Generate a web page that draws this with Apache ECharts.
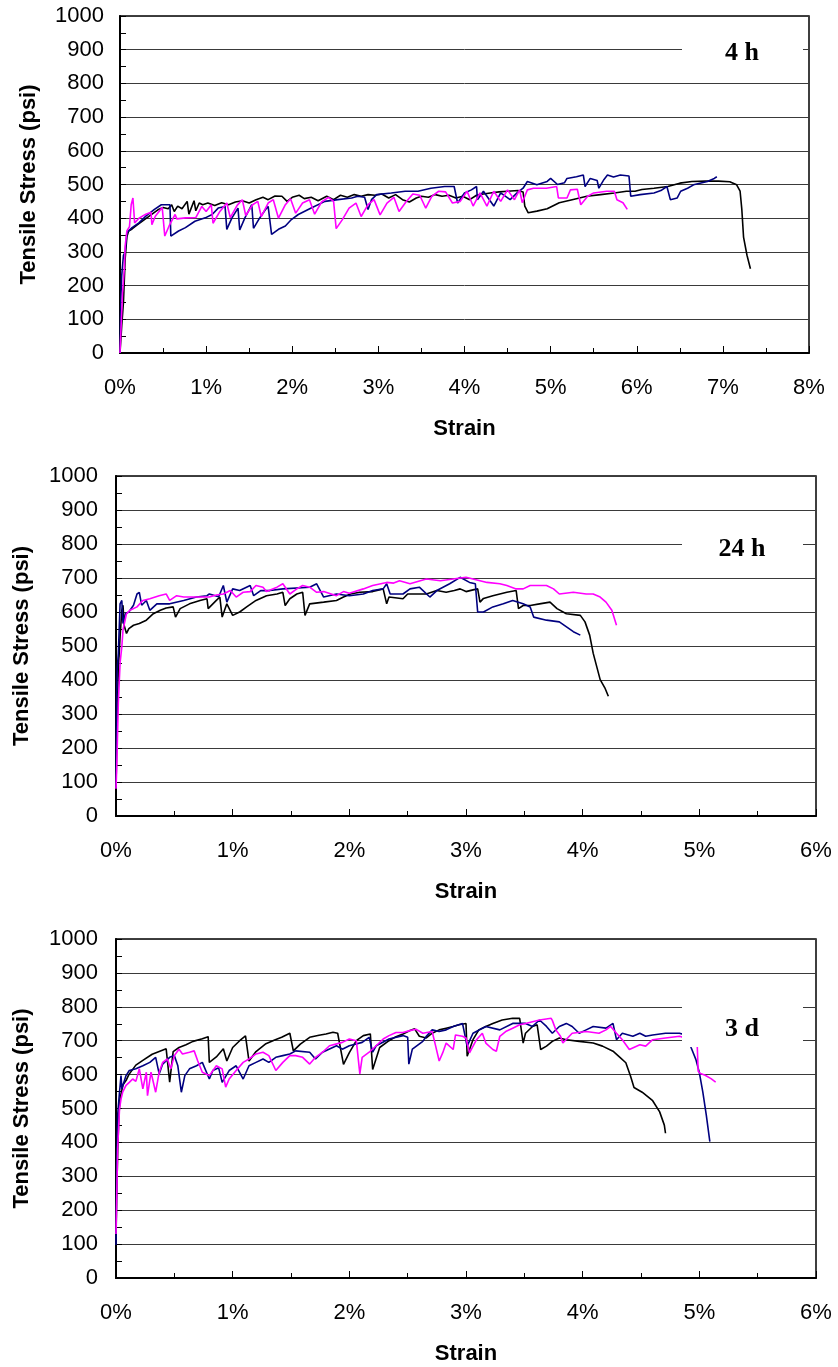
<!DOCTYPE html>
<html>
<head>
<meta charset="utf-8">
<script src="https://cdn.jsdelivr.net/npm/echarts@6/dist/echarts.min.js"></script>
<style>
html,body{margin:0;padding:0;background:#fff;}
#chart{width:838px;height:1367px;}
</style>
</head>
<body>
<div id="chart"></div>
<script>
// ---------- DATA (strain %, tensile stress psi) ----------
const panelLabels = ['4 h', '24 h', '3 d'];
const xMax = [8, 6, 6];
const yTicks = [0, 1000, 100];
const seriesColors = ['#000000', '#000080', '#FF00FF'];

const h4_black = [[0,0],[0.02,80],[0.04,150],[0.06,280],[0.08,345],[0.10,362],[0.14,368],[0.2,380],[0.28,395],[0.36,410],[0.44,425],[0.5,432],[0.56,428],[0.6,440],[0.63,420],[0.67,436],[0.72,428],[0.78,450],[0.8,412],[0.86,452],[0.88,422],[0.92,445],[0.96,440],[1.02,445],[1.1,438],[1.18,446],[1.26,440],[1.34,448],[1.42,452],[1.5,445],[1.58,455],[1.66,462],[1.72,455],[1.8,466],[1.88,465],[1.94,450],[2.0,462],[2.08,468],[2.14,458],[2.22,462],[2.3,452],[2.4,465],[2.48,455],[2.56,468],[2.64,462],[2.72,470],[2.8,465],[2.88,470],[2.96,468],[3.04,472],[3.12,460],[3.2,470],[3.28,455],[3.36,448],[3.44,460],[3.5,465],[3.58,462],[3.66,470],[3.74,465],[3.82,468],[3.9,460],[3.98,465],[4.06,455],[4.14,468],[4.22,472],[4.3,475],[4.4,478],[4.5,480],[4.62,482],[4.68,478],[4.7,436],[4.74,416],[4.84,421],[4.96,428],[5.1,446],[5.25,455],[5.42,465],[5.58,470],[5.74,475],[5.88,480],[5.98,480],[6.06,485],[6.2,489],[6.36,494],[6.5,504],[6.64,509],[6.8,510],[6.95,510],[7.08,508],[7.16,499],[7.2,480],[7.22,426],[7.24,344],[7.28,290],[7.32,250]];
const h4_blue = [[0,0],[0.01,160],[0.02,230],[0.04,290],[0.06,300],[0.08,357],[0.1,362],[0.14,372],[0.22,386],[0.3,406],[0.4,426],[0.48,440],[0.58,440],[0.59,347],[0.68,362],[0.76,372],[0.87,391],[0.99,401],[1.07,411],[1.14,430],[1.22,435],[1.24,367],[1.3,401],[1.37,430],[1.39,365],[1.45,401],[1.53,440],[1.55,370],[1.61,396],[1.69,426],[1.72,435],[1.76,352],[1.84,367],[1.92,377],[1.99,396],[2.07,411],[2.22,430],[2.38,450],[2.53,455],[2.69,460],[2.76,465],[2.84,462],[2.88,426],[2.92,455],[2.98,470],[3.15,475],[3.31,480],[3.46,480],[3.61,489],[3.77,494],[3.88,494],[3.92,445],[4.0,475],[4.08,484],[4.14,494],[4.15,455],[4.22,480],[4.34,436],[4.42,475],[4.53,455],[4.61,475],[4.68,489],[4.73,509],[4.84,499],[4.96,509],[5.0,518],[5.08,500],[5.16,505],[5.19,518],[5.3,523],[5.38,528],[5.40,494],[5.46,518],[5.54,512],[5.56,489],[5.62,515],[5.66,528],[5.73,522],[5.81,528],[5.91,525],[5.93,465],[6.04,470],[6.2,475],[6.28,482],[6.35,494],[6.39,455],[6.47,460],[6.51,480],[6.59,489],[6.66,499],[6.82,509],[6.9,518],[6.93,523]];
const h4_magenta = [[0,0],[0.01,63],[0.03,180],[0.05,250],[0.06,318],[0.08,362],[0.11,375],[0.13,440],[0.15,460],[0.17,386],[0.22,400],[0.3,412],[0.36,418],[0.37,381],[0.41,406],[0.49,432],[0.52,347],[0.57,377],[0.64,411],[0.66,398],[0.76,401],[0.88,402],[0.95,435],[1.0,420],[1.06,440],[1.08,385],[1.16,420],[1.24,445],[1.28,402],[1.36,438],[1.42,455],[1.46,408],[1.54,440],[1.6,450],[1.64,405],[1.72,445],[1.78,455],[1.84,400],[1.92,440],[1.98,458],[2.04,415],[2.12,445],[2.2,455],[2.26,412],[2.34,448],[2.42,462],[2.48,450],[2.51,369],[2.58,395],[2.66,430],[2.74,445],[2.8,405],[2.88,440],[2.95,455],[3.02,410],[3.1,445],[3.18,462],[3.24,420],[3.32,448],[3.4,472],[3.48,468],[3.55,430],[3.62,465],[3.7,480],[3.78,478],[3.86,445],[3.95,450],[4.03,480],[4.1,436],[4.18,475],[4.26,436],[4.34,480],[4.42,450],[4.5,484],[4.58,455],[4.64,484],[4.67,446],[4.73,484],[4.8,489],[4.95,489],[5.07,494],[5.09,460],[5.19,460],[5.23,484],[5.31,486],[5.35,440],[5.43,465],[5.5,475],[5.65,480],[5.74,480],[5.77,455],[5.84,446],[5.89,426]];

const h24_black = [[0,82],[0.01,284],[0.02,430],[0.035,527],[0.05,605],[0.06,620],[0.07,560],[0.09,537],[0.11,551],[0.15,561],[0.2,566],[0.26,576],[0.32,595],[0.38,605],[0.43,612],[0.49,615],[0.51,585],[0.55,610],[0.63,624],[0.72,634],[0.78,639],[0.79,610],[0.86,634],[0.89,644],[0.91,585],[0.95,624],[1.0,590],[1.06,600],[1.12,615],[1.2,634],[1.29,648],[1.38,653],[1.43,658],[1.45,619],[1.49,639],[1.55,653],[1.6,658],[1.62,590],[1.66,624],[1.78,629],[1.89,634],[1.95,644],[2.01,653],[2.09,658],[2.2,660],[2.29,668],[2.32,624],[2.34,644],[2.46,639],[2.5,653],[2.66,653],[2.75,663],[2.83,658],[2.9,663],[2.95,668],[3.0,660],[3.06,665],[3.1,668],[3.12,629],[3.15,640],[3.23,648],[3.35,658],[3.43,663],[3.45,610],[3.49,619],[3.55,619],[3.63,624],[3.72,629],[3.78,610],[3.86,595],[3.98,590],[4.02,571],[4.06,532],[4.09,479],[4.12,440],[4.15,401],[4.19,377],[4.22,352]];
const h24_blue = [[0,82],[0.005,333],[0.01,430],[0.02,478],[0.035,624],[0.05,634],[0.06,566],[0.08,595],[0.11,600],[0.15,620],[0.18,653],[0.2,658],[0.22,620],[0.26,634],[0.29,605],[0.35,624],[0.46,624],[0.58,634],[0.69,644],[0.78,648],[0.8,653],[0.88,645],[0.92,678],[0.95,629],[1.0,668],[1.06,663],[1.15,678],[1.18,648],[1.24,663],[1.32,663],[1.43,668],[1.66,673],[1.72,683],[1.78,644],[1.89,653],[2.0,648],[2.12,653],[2.2,663],[2.29,668],[2.32,683],[2.35,653],[2.46,653],[2.52,668],[2.6,673],[2.69,644],[2.75,663],[2.86,683],[2.95,702],[3.03,687],[3.08,683],[3.10,600],[3.15,600],[3.23,615],[3.32,624],[3.4,634],[3.49,624],[3.55,615],[3.58,585],[3.69,576],[3.8,571],[3.92,542],[3.98,532]];
const h24_magenta = [[0,80],[0.006,139],[0.02,333],[0.035,450],[0.05,498],[0.06,547],[0.09,595],[0.12,605],[0.18,615],[0.23,634],[0.29,639],[0.37,648],[0.43,653],[0.46,634],[0.52,648],[0.58,644],[0.66,644],[0.8,644],[0.86,650],[0.92,653],[0.98,663],[1.03,644],[1.09,658],[1.15,660],[1.2,678],[1.26,673],[1.29,660],[1.38,673],[1.43,683],[1.49,653],[1.55,668],[1.6,678],[1.66,673],[1.72,658],[1.78,660],[1.89,648],[1.95,660],[2.0,655],[2.12,668],[2.2,678],[2.32,687],[2.38,685],[2.43,692],[2.52,683],[2.66,697],[2.78,692],[2.89,697],[3.0,702],[3.12,692],[3.18,687],[3.29,683],[3.35,678],[3.43,668],[3.49,668],[3.55,678],[3.69,678],[3.75,668],[3.8,653],[3.92,658],[4.03,653],[4.09,653],[4.15,644],[4.2,629],[4.25,605],[4.29,561]];

const d3_black = [[0,100],[0.005,230],[0.015,380],[0.025,480],[0.035,530],[0.06,570],[0.09,585],[0.11,600],[0.17,628],[0.23,642],[0.31,660],[0.37,668],[0.43,676],[0.46,578],[0.49,668],[0.54,680],[0.6,688],[0.66,698],[0.74,706],[0.79,712],[0.8,636],[0.86,652],[0.92,676],[0.95,640],[1.0,680],[1.06,700],[1.11,714],[1.14,640],[1.2,668],[1.28,690],[1.36,702],[1.42,710],[1.49,722],[1.52,670],[1.58,690],[1.66,710],[1.74,716],[1.8,720],[1.86,725],[1.9,722],[1.95,630],[2.0,665],[2.06,700],[2.12,715],[2.18,720],[2.2,615],[2.26,680],[2.34,700],[2.4,712],[2.46,720],[2.52,730],[2.56,735],[2.6,713],[2.66,708],[2.71,722],[2.77,732],[2.83,737],[2.89,742],[2.94,747],[3.0,751],[3.01,654],[3.06,703],[3.11,732],[3.17,742],[3.23,751],[3.31,761],[3.4,766],[3.46,766],[3.49,693],[3.51,722],[3.57,742],[3.61,747],[3.64,674],[3.69,684],[3.74,698],[3.8,708],[3.86,703],[3.97,698],[4.09,693],[4.17,684],[4.26,669],[4.31,654],[4.37,635],[4.41,596],[4.44,562],[4.51,548],[4.6,523],[4.66,490],[4.7,451],[4.71,427]];
const d3_blue = [[0,97],[0.006,332],[0.014,480],[0.03,548],[0.043,597],[0.05,558],[0.086,597],[0.114,612],[0.17,617],[0.23,626],[0.29,636],[0.34,651],[0.37,602],[0.4,631],[0.46,651],[0.5,656],[0.53,626],[0.56,548],[0.59,597],[0.63,617],[0.69,626],[0.74,636],[0.8,587],[0.83,612],[0.88,620],[0.91,577],[0.97,612],[1.03,626],[1.09,587],[1.14,626],[1.2,636],[1.26,646],[1.31,636],[1.37,651],[1.43,656],[1.49,661],[1.54,670],[1.66,666],[1.71,646],[1.77,666],[1.89,685],[1.94,675],[2.0,685],[2.11,695],[2.17,710],[2.2,666],[2.23,685],[2.34,705],[2.46,715],[2.5,710],[2.51,631],[2.54,675],[2.63,698],[2.66,713],[2.71,732],[2.77,727],[2.83,732],[2.89,742],[2.97,751],[3.01,684],[3.06,722],[3.17,742],[3.29,732],[3.4,751],[3.51,751],[3.57,742],[3.63,761],[3.69,742],[3.74,722],[3.8,742],[3.86,751],[3.91,742],[3.97,722],[4.03,732],[4.09,742],[4.2,737],[4.26,751],[4.29,703],[4.34,722],[4.43,713],[4.49,722],[4.54,713],[4.6,717],[4.71,722],[4.83,722],[4.9,715],[4.93,679],[4.97,645],[5.0,606],[5.03,548],[5.06,480],[5.09,402]];
const d3_magenta = [[0,130],[0.006,234],[0.014,381],[0.03,499],[0.043,528],[0.057,548],[0.086,568],[0.114,577],[0.143,587],[0.17,580],[0.2,617],[0.23,558],[0.26,607],[0.27,538],[0.3,607],[0.34,548],[0.37,607],[0.4,636],[0.44,646],[0.47,617],[0.5,656],[0.54,675],[0.57,661],[0.63,666],[0.67,670],[0.7,641],[0.74,607],[0.8,597],[0.86,626],[0.91,617],[0.94,563],[0.97,587],[1.03,612],[1.09,636],[1.14,646],[1.2,661],[1.26,666],[1.31,656],[1.37,612],[1.43,636],[1.49,656],[1.54,656],[1.6,651],[1.66,631],[1.71,651],[1.77,666],[1.83,685],[1.94,695],[2.0,705],[2.06,700],[2.09,602],[2.11,651],[2.17,666],[2.23,685],[2.29,705],[2.34,715],[2.4,724],[2.46,724],[2.51,729],[2.57,734],[2.63,722],[2.71,727],[2.74,684],[2.77,640],[2.8,664],[2.83,693],[2.89,674],[2.91,717],[2.97,713],[3.0,708],[3.03,664],[3.09,703],[3.14,722],[3.17,693],[3.23,674],[3.26,669],[3.29,713],[3.34,727],[3.4,737],[3.46,747],[3.51,751],[3.57,756],[3.63,761],[3.73,766],[3.74,760],[3.77,732],[3.81,713],[3.83,693],[3.91,722],[4.03,727],[4.14,722],[4.2,732],[4.24,742],[4.29,722],[4.34,703],[4.4,674],[4.49,688],[4.54,684],[4.6,703],[4.71,708],[4.83,713],[4.9,706],[4.98,705],[4.99,610],[5.01,603],[5.05,598],[5.1,588],[5.14,578]];

const panels = [
  [h4_black, h4_blue, h4_magenta],
  [h24_black, h24_blue, h24_magenta],
  [d3_black, d3_blue, d3_magenta]
];

// ---------- LAYOUT ----------
const grids = [
  {left: 120, top: 16, width: 689, height: 337},
  {left: 116, top: 476, width: 700, height: 340},
  {left: 116, top: 939, width: 700, height: 339}
];
const labelBoxes = [
  {x: 682, y: 28, w: 121, h: 46, tx: 742, ty: 53},
  {x: 682, y: 522, w: 121, h: 48, tx: 742, ty: 549},
  {x: 682, y: 990, w: 121, h: 57, tx: 742, ty: 1029}
];

const FONT = '"Liberation Sans", Arial, sans-serif';

const option = {
  backgroundColor: '#fff',
  animation: false,
  grid: grids.map(g => Object.assign({show: true, borderColor: '#000', borderWidth: 1.5, backgroundColor: '#fff', containLabel: false}, g)),
  xAxis: grids.map((g, i) => ({
    type: 'value', gridIndex: i, min: 0, max: xMax[i], interval: 1,
    axisLine: {show: true, onZero: false, lineStyle: {color: '#000', width: 2}},
    axisTick: {show: true, inside: true, length: 7, lineStyle: {color: '#000', width: 1}},
    minorTick: {show: true, splitNumber: 2, length: 5, lineStyle: {color: '#000', width: 1}},
    splitLine: {show: false},
    axisLabel: {color: '#000', fontFamily: FONT, fontSize: 22, margin: 24, formatter: v => v + '%'},
    name: 'Strain', nameLocation: 'middle', nameGap: 65,
    nameTextStyle: {color: '#000', fontFamily: FONT, fontSize: 22, fontWeight: 'bold'}
  })),
  yAxis: grids.map((g, i) => ({
    type: 'value', gridIndex: i, min: yTicks[0], max: yTicks[1], interval: yTicks[2],
    axisLine: {show: true, onZero: false, lineStyle: {color: '#000', width: 2}},
    axisTick: {show: true, inside: true, length: 6, lineStyle: {color: '#000', width: 1}},
    minorTick: {show: true, splitNumber: 2, length: 6, lineStyle: {color: '#000', width: 1}},
    splitLine: {show: true, lineStyle: {color: '#3a3a3a', width: 1}},
    axisLabel: {color: '#000', fontFamily: FONT, fontSize: 22, margin: i === 0 ? 16 : 18, formatter: v => String(v)},
    name: 'Tensile Stress (psi)', nameLocation: 'middle', nameGap: i === 0 ? 80 : 83,
    nameTextStyle: {color: '#000', fontFamily: FONT, fontSize: 22, fontWeight: 'bold'}
  })),
  series: [],
  graphic: []
};

panels.forEach((p, i) => {
  p.forEach((d, k) => {
    option.series.push({
      type: 'line', xAxisIndex: i, yAxisIndex: i, data: d,
      showSymbol: false, symbol: 'none', smooth: false,
      lineStyle: {color: seriesColors[k], width: 1.6},
      itemStyle: {color: seriesColors[k]},
      z: 2 + k
    });
  });
});

labelBoxes.forEach((b, i) => {
  option.graphic.push({
    type: 'rect', z: 100, silent: true,
    shape: {x: b.x, y: b.y, width: b.w, height: b.h},
    style: {fill: '#fff'}
  });
  option.graphic.push({
    type: 'text', z: 101, silent: true, x: b.tx, y: b.ty,
    style: {text: panelLabels[i], font: 'bold 26px "Liberation Serif", "Times New Roman", serif',
            fill: '#000', textAlign: 'center', textVerticalAlign: 'middle', verticalAlign: 'middle'}
  });
});

const chart = echarts.init(document.getElementById('chart'), null, {renderer: 'canvas'});
chart.setOption(option);
</script>
</body>
</html>
